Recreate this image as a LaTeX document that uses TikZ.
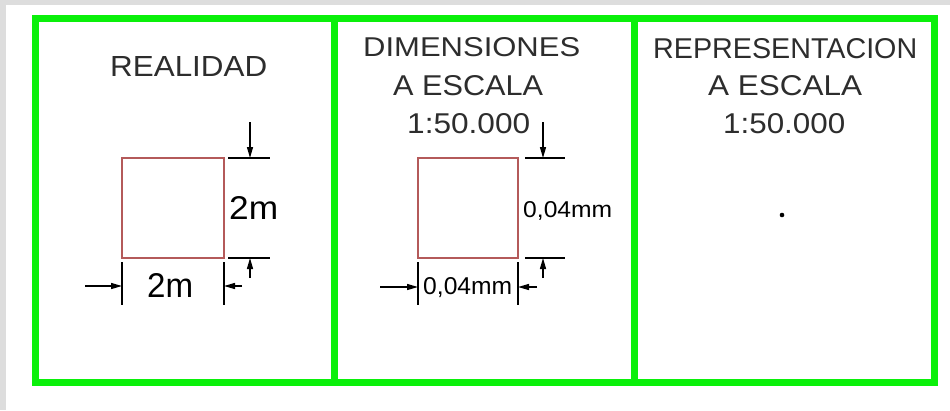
\documentclass[tikz,border=0pt]{standalone}
\usepackage{fontspec}
\setmainfont{Liberation Sans}
\usetikzlibrary{arrows.meta}
\definecolor{frameg}{RGB}{10,240,10}
\definecolor{sqred}{RGB}{180,90,90}
\definecolor{bggray}{RGB}{221,221,221}
\definecolor{txtg}{RGB}{45,45,45}
\newcommand{\fitt}[3]{\resizebox{#1pt}{#2pt}{#3}}
\begin{document}
\begin{tikzpicture}[x=1pt,y=-1pt,
  lbl/.style={inner sep=0pt, anchor=north west},
  title/.style={lbl, text=txtg},
  dimtxt/.style={lbl, text=black},
  frameline/.style={draw=frameg, line width=7pt},
  sq/.style={draw=sqred, line width=1.1pt},
  extline/.style={draw=black, line width=1.1pt},
  dimarrow/.style={draw=black, line width=1.4pt, -{Triangle[length=11pt,width=6pt]}}]
\useasboundingbox (0,0) rectangle (950,410);
\fill[bggray] (0,0) rectangle (950,410);
\fill[white] (6,5) rectangle (950,410);
% frame
\draw[frameline] (35.5,18.5) rectangle (934,382.5);
\draw[frameline] (334,18.5) -- (334,382.5);
\draw[frameline] (634,18.5) -- (634,382.5);
% titles
\node[title] (t1) at (110,56) {\fitt{157}{20}{REALIDAD}};
\node[title] (t2a) at (363,37) {\fitt{217}{19}{DIMENSIONES}};
\node[title] (t2b) at (393,75) {\fitt{150}{20}{A ESCALA}};
\node[title] (t2c) at (407,113) {\fitt{123}{20}{1:50.000}};
\node[title] (t3a) at (653,38) {\fitt{264}{20}{REPRESENTACION}};
\node[title] (t3b) at (708,75) {\fitt{154}{20}{A ESCALA}};
\node[title] (t3c) at (723,113) {\fitt{122}{20}{1:50.000}};
% left square
\coordinate (a1) at (122,158);
\coordinate (a2) at (224,258);
\draw[sq] (a1) rectangle (a2);
\coordinate (ae1) at (228,158); \coordinate (ae2) at (270,158);
\coordinate (ae3) at (228,258); \coordinate (ae4) at (270,258);
\draw[extline] (ae1) -- (ae2);
\draw[extline] (ae3) -- (ae4);
\coordinate (ae5) at (122,262); \coordinate (ae6) at (122,305);
\coordinate (ae7) at (224,262); \coordinate (ae8) at (224,305);
\draw[extline] (ae5) -- (ae6);
\draw[extline] (ae7) -- (ae8);
\coordinate (av1) at (250,122); \coordinate (av2) at (250,158);
\coordinate (av3) at (250,278); \coordinate (av4) at (250,258);
\draw[dimarrow] (av1) -- (av2);
\draw[dimarrow] (av3) -- (av4);
\coordinate (ah1) at (85,286); \coordinate (ah2) at (122,286);
\coordinate (ah3) at (242,286); \coordinate (ah4) at (224,286);
\draw[dimarrow] (ah1) -- (ah2);
\draw[dimarrow] (ah3) -- (ah4);
\node[dimtxt] (d1) at (229,196) {\fitt{49}{23}{2m}};
\node[dimtxt] (d2) at (147,273) {\fitt{46}{24}{2m}};
% middle square
\coordinate (b1) at (418,158);
\coordinate (b2) at (518,258);
\draw[sq] (b1) rectangle (b2);
\coordinate (be1) at (525,158); \coordinate (be2) at (565,158);
\coordinate (be3) at (525,258); \coordinate (be4) at (565,258);
\draw[extline] (be1) -- (be2);
\draw[extline] (be3) -- (be4);
\coordinate (be5) at (418,262); \coordinate (be6) at (418,305);
\coordinate (be7) at (518,262); \coordinate (be8) at (518,305);
\draw[extline] (be5) -- (be6);
\draw[extline] (be7) -- (be8);
\coordinate (bv1) at (543,122); \coordinate (bv2) at (543,158);
\coordinate (bv3) at (543,278); \coordinate (bv4) at (543,258);
\draw[dimarrow] (bv1) -- (bv2);
\draw[dimarrow] (bv3) -- (bv4);
\coordinate (bh1) at (380,287); \coordinate (bh2) at (418,287);
\coordinate (bh3) at (537,287); \coordinate (bh4) at (518,287);
\draw[dimarrow] (bh1) -- (bh2);
\draw[dimarrow] (bh3) -- (bh4);
\node[dimtxt] (d3) at (523,201) {\fitt{89}{16}{0,04mm}};
\node[dimtxt] (d4) at (423,277) {\fitt{89}{17}{0,04mm}};
% right dot
\fill[black] (782,215) circle (2.3pt);
\end{tikzpicture}
\end{document}
